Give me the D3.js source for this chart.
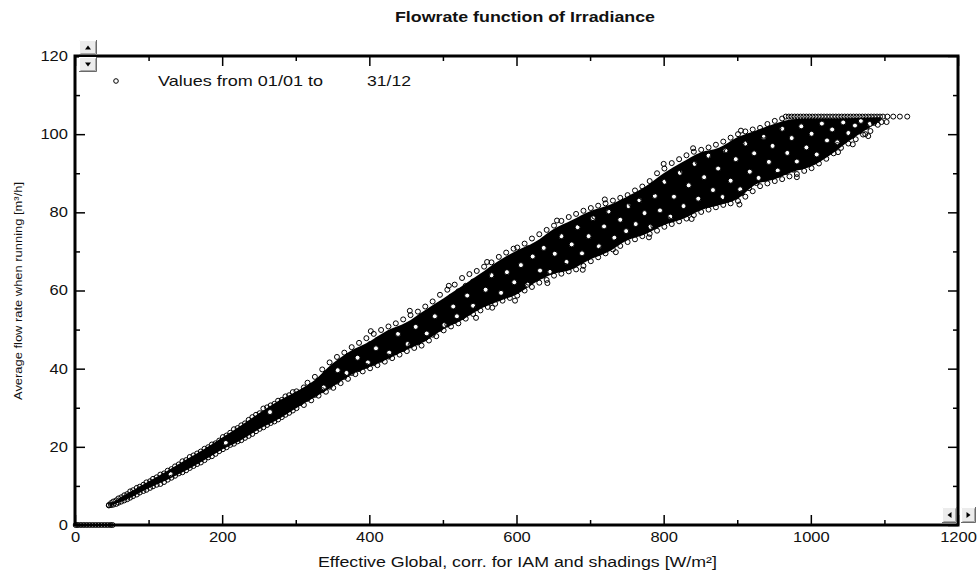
<!DOCTYPE html>
<html>
<head>
<meta charset="utf-8">
<script src="https://cdn.jsdelivr.net/npm/d3@7"></script>
<style>
  body { margin: 0; background: #fff; }
  text { font-family: "Liberation Sans", Arial, sans-serif; fill: #111; }
</style>
</head>
<body>
<div id="chart"></div>
<script>
// axis ticks
const xTicks = [0, 200, 400, 600, 800, 1000, 1200];
const xMinor = [100, 300, 500, 700, 900, 1100];
const yTicks = [0, 20, 40, 60, 80, 100, 120];
const yMinor = [10, 30, 50, 70, 90, 110];

// pump stopped: flow 0 at low irradiance
const zeroIrr = [1, 4, 8, 12, 16, 20, 24, 28, 32, 36, 40, 44, 48, 51];

// the dense (solid black) middle of the cloud
const coreIrr  = [47, 60, 80, 100, 125, 150, 175, 200, 225, 250, 275, 300, 325, 350, 375, 400, 425, 450, 475, 500, 525, 550, 575, 600, 625, 650, 675, 700, 725, 750, 775, 800, 825, 850, 875, 900, 925, 950, 975, 1000, 1025, 1050, 1075, 1095];
const coreLow  = [5.0, 5.75, 7.45, 9.4, 11.5, 13.9, 16.5, 19.3, 21.65, 24.5, 26.9, 29.8, 32.6, 35.4, 38.4, 40.4, 42.5, 44.8, 46.9, 50.0, 52.3, 55.2, 57.2, 59.0, 62.0, 64.2, 65.4, 67.9, 69.9, 72.8, 74.4, 76.7, 78.2, 80.5, 81.8, 83.4, 87.1, 88.4, 90.3, 91.7, 94.5, 98.0, 101.1, 103.5];
const coreHigh = [5.2, 6.85, 9.0, 11.1, 13.8, 16.6, 19.4, 22.4, 25.4, 28.6, 31.6, 34.1, 37.0, 41.3, 44.6, 46.9, 49.8, 51.8, 54.9, 57.9, 61.0, 64.2, 67.5, 70.2, 72.4, 75.7, 78.0, 80.3, 81.8, 84.0, 86.6, 90.0, 92.8, 95.3, 96.5, 99.2, 100.9, 102.6, 103.8, 104.0, 104.0, 104.1, 104.2, 104.3];

// hourly values along the upper rim [irradiance, flow]
const upperRim = [[46,5.1],[49,5.6],[52,6.0],[56,6.3],[59,6.8],[63,7.1],[67,7.6],[71,7.9],[75,8.6],[79,8.9],[84,9.5],[88,9.8],[93,10.3],[97,10.9],[102,11.2],[106,11.8],[111,12.2],[116,12.9],[121,13.2],[126,13.9],[131,14.3],[136,15.0],[141,15.5],[146,16.3],[151,16.6],[156,17.4],[161,17.8],[166,18.3],[171,18.8],[176,19.5],[181,19.9],[186,20.6],[191,20.9],[196,21.6],[201,22.5],[206,22.9],[211,23.6],[216,24.5],[221,24.8],[226,25.5],[231,26.0],[236,26.9],[241,27.6],[246,28.2],[251,28.6],[256,29.8],[261,30.1],[266,30.6],[271,31.0],[276,31.8],[281,32.0],[286,32.9],[291,33.2],[296,34.0],
  [301,34.2],[306,33.6],[311,35.2],[316,36.4],[321,35.6],[326,37.9],[331,36.9],[336,39.8],[341,38.7],[346,41.6],[351,40.4],[356,43.0],[361,41.5],[366,44.1],[371,42.8],[376,45.5],[381,44.0],[386,46.6],[391,45.1],[396,47.8],[401,46.3],[406,48.9],[411,47.4],[416,49.9],[421,48.3],[426,50.8],[431,49.2],[436,51.6],[441,50.0],[446,52.6],[451,51.0],[456,53.7],[461,52.0],[466,54.6],[471,52.9],[476,55.9],[481,54.2],[486,57.2],[491,55.6],[496,58.9],[501,57.0],[506,60.2],[511,58.4],[516,61.5],[521,59.8],[526,63.2],[531,61.2],[536,64.2],[541,62.3],[546,65.0],[551,63.0],[556,66.1],[561,64.3],[566,67.2],[571,65.3],[576,68.6],[581,66.6],[586,69.7],[591,67.6],[596,70.7],
  [601,71.0],[606,69.6],[611,72.0],[616,70.8],[621,73.3],[626,71.5],[631,74.4],[636,72.6],[641,75.5],[646,73.4],[651,76.6],[656,74.4],[661,77.8],[666,75.9],[671,78.8],[676,76.5],[681,79.6],[686,77.2],[691,80.4],[696,78.4],[701,81.1],[706,78.9],[711,81.7],[716,79.4],[721,82.3],[726,80.1],[731,83.0],[736,80.6],[741,83.7],[746,81.5],[751,84.4],[756,82.1],[761,85.6],[766,83.0],[771,86.6],[776,84.3],[781,88.0],[786,85.2],[791,90.0],[796,87.1],[801,91.2],[806,88.3],[811,92.6],[816,89.5],[821,93.6],[826,90.6],[831,94.6],[836,91.8],[841,95.5],[846,92.9],[851,96.0],[856,93.4],[861,96.6],[866,94.1],[871,97.3],[876,94.8],[881,98.1],[886,95.7],[891,99.1],[896,96.5],[901,100.0],[906,97.6],[911,100.7],[916,98.2],[921,101.2],[926,99.1],[931,101.6],[936,99.6],[941,102.6],[946,100.6],[951,103.4],[956,101.5],[961,104.0]];

// hourly values along the lower rim [irradiance, flow]
const lowerRim = [[46,5.0],[49,5.1],[52,5.2],[56,5.4],[59,5.7],[63,6.0],[67,6.3],[71,6.6],[75,7.0],[79,7.4],[84,7.8],[88,8.3],[93,8.7],[97,9.0],[102,9.5],[106,9.9],[111,10.3],[116,10.5],[121,11.0],[126,11.6],[131,12.1],[136,12.6],[141,13.2],[146,13.5],[151,14.0],[156,14.6],[161,15.1],[166,15.6],[171,16.0],[176,16.6],[181,17.3],[186,17.6],[191,18.2],[196,18.9],[201,19.4],[206,19.9],[211,20.5],[216,20.8],[221,21.4],[226,21.7],[231,22.3],[236,22.8],[241,23.3],[246,24.0],[251,24.6],[256,25.0],[261,25.6],[266,26.1],[271,26.5],[276,27.0],[281,27.6],[286,28.2],[291,28.7],[296,29.3],
  [301,29.9],[306,31.2],[311,30.7],[316,32.3],[321,31.9],[326,33.3],[331,33.1],[336,34.5],[341,34.1],[346,35.4],[351,35.1],[356,36.7],[361,36.3],[366,37.9],[371,37.4],[376,38.9],[381,38.6],[386,39.9],[391,39.3],[396,40.7],[401,40.1],[406,41.4],[411,40.9],[416,42.3],[421,41.8],[426,43.1],[431,42.7],[436,44.2],[441,43.6],[446,45.0],[451,44.5],[456,46.0],[461,45.3],[466,46.7],[471,45.9],[476,47.8],[481,47.2],[486,48.7],[491,48.3],[496,50.2],[501,49.8],[506,51.3],[511,50.8],[516,52.2],[521,51.6],[526,53.2],[531,52.8],[536,54.4],[541,54.0],[546,55.5],[551,54.9],[556,56.5],[561,55.8],[566,57.3],[571,56.6],[576,58.0],[581,57.4],[586,58.9],[591,58.1],[596,59.7],
  [601,58.7],[606,60.8],[611,60.0],[616,62.0],[621,60.9],[626,63.0],[631,62.0],[636,63.8],[641,62.7],[646,64.8],[651,63.8],[656,65.5],[661,64.3],[666,66.3],[671,64.9],[676,67.0],[681,65.4],[686,67.6],[691,66.3],[696,68.6],[701,67.5],[706,69.7],[711,68.5],[716,70.6],[721,69.5],[726,71.6],[731,70.5],[736,72.5],[741,71.4],[746,73.4],[751,72.4],[756,74.3],[761,73.1],[766,75.1],[771,73.9],[776,75.8],[781,74.5],[786,76.5],[791,75.3],[796,77.3],[801,76.3],[806,78.2],[811,77.0],[816,79.0],[821,77.7],[826,79.7],[831,78.4],[836,80.4],[841,79.3],[846,81.2],[851,80.1],[856,81.9],[861,80.7],[866,82.5],[871,81.3],[876,83.1],[881,81.9],[886,83.6],[891,82.3],[896,84.2],[901,82.9],[906,84.9],[911,84.0],[916,86.2],[921,85.4],[926,87.5],[931,86.7],[936,88.5],[941,87.4],[946,89.1],[951,88.0],[956,89.6],[961,88.5],[966,90.3],[971,89.2],[976,90.9],[981,89.8],[986,91.6],[991,90.6],[996,92.3],[1001,91.3],[1006,93.2],[1011,92.5],[1016,94.5],[1021,93.7],[1026,95.8],[1031,95.1],[1036,97.2],[1041,96.5],[1046,98.4],[1051,97.6],[1056,99.6],[1061,98.7],[1066,100.7],[1071,99.9],[1076,101.9],[1081,100.8],[1086,102.9],[1091,102.4],[1096,103.1]];

// isolated hours sticking out of the cloud
const outliers = [[545,53.0],[567,55.6],[598,57.4],[642,61.9],[690,65.3],[735,69.8],[780,73.6],[838,78.3],[903,82.0],[981,89.0],[1037,95.4],[1057,97.4],[1074,100.0],[1078,99.5],[1103,103.1],
  [402,49.6],[455,54.8],[508,61.2],[560,67.3],[655,77.9],[720,83.3],[800,92.4],[840,96.4],[905,100.9]];

// flow saturates at the pump maximum
const capFlow = 104.5;
const capIrr = [966, 970, 974, 978, 982, 986, 990, 994, 998, 1002, 1006, 1010, 1014, 1018, 1022, 1026, 1030, 1034, 1038, 1042, 1046, 1050, 1054, 1058, 1062, 1066, 1070, 1074, 1078, 1082, 1086, 1090, 1094, 1098, 1104, 1112, 1121, 1131];

// hours inside the cloud (their white centres are the specks)
const innerPoints = [[130,13.0],[205,21.0],[265,28.9],
  [338,35.2],[357,39.6],[369,38.9],[384,42.8],[398,41.6],[409,45.2],[427,44.1],[439,48.9],[452,46.3],[463,50.7],[478,49.0],[489,53.4],[502,51.2],[514,55.9],[519,53.4],[533,58.7],[541,56.1],[558,60.2],[566,63.9],[579,59.4],[587,64.7],[597,62.1],
  [606,66.5],[615,61.5],[622,68.7],[632,65.1],[637,70.9],[645,64.8],[652,69.4],[661,73.9],[668,67.3],[675,71.8],[683,76.2],[689,69.5],[698,73.9],[704,78.5],[712,71.3],[719,76.4],[725,80.2],[733,73.5],[741,78.1],[749,75.2],[752,81.6],[762,77.0],[767,83.1],[774,79.8],[782,76.3],[788,84.2],[795,80.5],[801,87.8],[809,78.9],[814,84.0],[822,90.1],[827,81.6],[834,86.9],[842,92.4],[847,83.5],[855,89.0],[861,94.5],[867,85.7],[874,91.2],[880,83.9],[884,95.8],[891,88.1],[898,93.6],[904,85.9],[911,97.6],[917,90.4],[923,95.1],[929,88.8],[936,99.3],[943,92.9],[948,97.0],[955,90.7],[961,101.4],[968,95.2],[974,99.0],[981,93.0],[987,102.0],[994,96.6],[1001,100.1],[1008,94.8],[1015,102.7],[1022,98.4],[1029,101.2],[1036,97.9],[1044,103.0],[1051,100.3],[1060,102.2],[1068,103.4],[1080,102.6]];

const W = 980, H = 583;
const svg = d3.select("#chart").append("svg")
    .attr("width", W)
    .attr("height", H);

const x = d3.scaleLinear().domain([0, 1200]).range([75, 958]);
const y = d3.scaleLinear().domain([0, 120]).range([525, 56]);

// ticks, all pointing into the frame
function ticks(axis, tx, ty, labels) {
    const g = svg.append("g")
        .attr("transform", "translate(" + tx + "," + ty + ")")
        .call(axis);
    g.select(".domain").remove();
    g.selectAll(".tick line").attr("stroke", "#000").attr("stroke-width", 1.5);
    if (labels) {
        g.selectAll("text")
            .attr("font-size", 14)
            .attr("fill", "#111")
            .attr("transform", "scale(1.18,1)");
    } else {
        g.selectAll("text").remove();
    }
    return g;
}
const fmt = d3.format("d");
ticks(d3.axisBottom(x).tickValues(xTicks).tickFormat(fmt).tickSize(-10).tickPadding(7), 0, 525, true);
ticks(d3.axisBottom(x).tickValues(xMinor).tickSize(-5), 0, 525, false);
ticks(d3.axisTop(x).tickValues(xTicks).tickSize(-10), 0, 56, false);
ticks(d3.axisTop(x).tickValues(xMinor).tickSize(-5), 0, 56, false);
ticks(d3.axisLeft(y).tickValues(yTicks).tickFormat(fmt).tickSize(-10).tickPadding(6), 75, 0, true);
ticks(d3.axisLeft(y).tickValues(yMinor).tickSize(-5), 75, 0, false);
ticks(d3.axisRight(y).tickValues(yTicks).tickSize(-10), 958, 0, false);
ticks(d3.axisRight(y).tickValues(yMinor).tickSize(-5), 958, 0, false);

// cloud core
const core = coreIrr.map((w, i) => ({w: w, lo: coreLow[i], hi: coreHigh[i]}));
svg.append("path")
    .datum(core)
    .attr("fill", "#000")
    .attr("d", d3.area()
        .curve(d3.curveMonotoneX)
        .x(d => x(d.w))
        .y0(d => y(d.lo))
        .y1(d => y(d.hi)));

// frame
svg.append("rect")
    .attr("x", 75).attr("y", 56)
    .attr("width", 958 - 75).attr("height", 525 - 56)
    .attr("fill", "none")
    .attr("stroke", "#000")
    .attr("stroke-width", 3);

// hourly points
function dots(data, fill) {
    svg.append("g").selectAll("circle")
        .data(data)
        .enter().append("circle")
        .attr("cx", d => x(d[0]))
        .attr("cy", d => y(d[1]))
        .attr("r", 2.5)
        .attr("fill", fill)
        .attr("stroke", "#000")
        .attr("stroke-width", 1);
}
dots(innerPoints, "#fff");
dots([].concat(upperRim, lowerRim, outliers), "none");
dots(capIrr.map(w => [w, capFlow]), "none");
dots(zeroIrr.map(w => [w, 0]), "none");

// legend
svg.append("circle")
    .attr("cx", 116).attr("cy", 81).attr("r", 2.3)
    .attr("fill", "none").attr("stroke", "#000").attr("stroke-width", 1);
svg.append("text")
    .attr("x", 158).attr("y", 86)
    .attr("font-size", 15)
    .attr("textLength", 165).attr("lengthAdjust", "spacingAndGlyphs")
    .text("Values from 01/01 to");
svg.append("text")
    .attr("x", 367).attr("y", 86)
    .attr("font-size", 15)
    .attr("textLength", 44).attr("lengthAdjust", "spacingAndGlyphs")
    .text("31/12");

// titles
svg.append("text")
    .attr("x", 395).attr("y", 22)
    .attr("font-size", 15)
    .attr("font-weight", "bold")
    .attr("textLength", 260).attr("lengthAdjust", "spacingAndGlyphs")
    .text("Flowrate function of Irradiance");

svg.append("text")
    .attr("x", 318).attr("y", 567)
    .attr("font-size", 14)
    .attr("textLength", 399).attr("lengthAdjust", "spacingAndGlyphs")
    .text("Effective Global, corr. for IAM and shadings [W/m²]");

svg.append("text")
    .attr("transform", "translate(22,400) rotate(-90)")
    .attr("font-size", 11)
    .attr("textLength", 218).attr("lengthAdjust", "spacingAndGlyphs")
    .text("Average flow rate when running [m³/h]");

// little scroll buttons
function button(bx, by, bw, bh, dir) {
    const g = svg.append("g").attr("transform", "translate(" + bx + "," + by + ")");
    g.append("rect").attr("width", bw).attr("height", bh).attr("fill", "#ececec");
    g.append("path").attr("d", "M0.5," + (bh - 0.5) + "V0.5H" + (bw - 0.5))
        .attr("fill", "none").attr("stroke", "#fff");
    g.append("path").attr("d", "M0," + (bh - 0.5) + "H" + (bw - 0.5) + "V0")
        .attr("fill", "none").attr("stroke", "#6a6a6a");
    g.append("path").attr("d", "M1.5," + (bh - 1.5) + "H" + (bw - 1.5) + "V1.5")
        .attr("fill", "none").attr("stroke", "#a8a8a8");
    const cx = bw / 2, cy = bh / 2;
    let tri;
    if (dir === "up") tri = [[cx - 3, cy + 2], [cx + 3, cy + 2], [cx, cy - 2]];
    if (dir === "down") tri = [[cx - 3, cy - 2], [cx + 3, cy - 2], [cx, cy + 2]];
    if (dir === "left") tri = [[cx + 2, cy - 3], [cx + 2, cy + 3], [cx - 2, cy]];
    if (dir === "right") tri = [[cx - 2, cy - 3], [cx - 2, cy + 3], [cx + 2, cy]];
    g.append("path").attr("d", "M" + tri.join("L") + "Z").attr("fill", "#000");
}
button(79, 40, 18, 15, "up");
button(79, 57, 18, 15, "down");
button(942, 507, 15, 16, "left");
button(961, 507, 15, 16, "right");
</script>
</body>
</html>
